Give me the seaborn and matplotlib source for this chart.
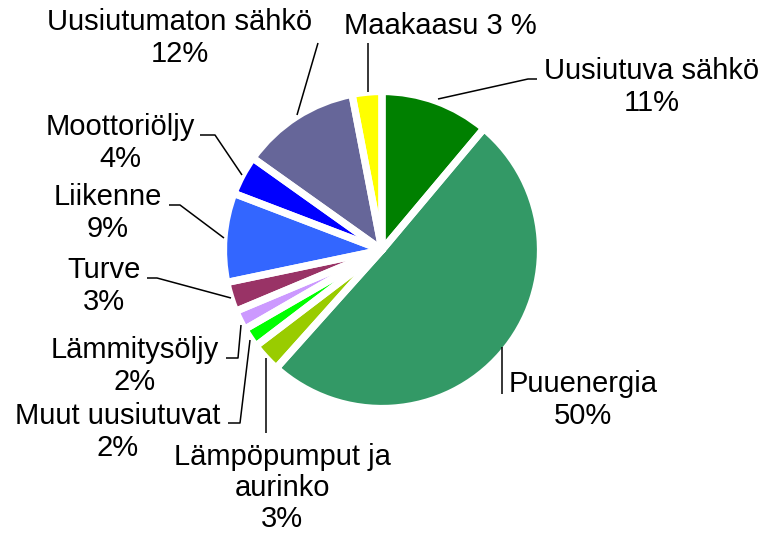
import matplotlib
matplotlib.use("Agg")
import matplotlib.pyplot as plt
import seaborn as sns

# Energy use shares (%), clockwise from 12 o'clock
categories = ["Uusiutuva sähkö", "Puuenergia", "Lämpöpumput ja aurinko",
              "Muut uusiutuvat", "Lämmitysöljy", "Turve", "Liikenne",
              "Moottoriöljy", "Uusiutumaton sähkö", "Maakaasu"]
shares = [11, 50, 3, 2, 2, 3, 9, 4, 12, 3]
label_texts = ["Uusiutuva sähkö\n11%", "Puuenergia\n50%",
               "Lämpöpumput ja\naurinko\n3%", "Muut uusiutuvat\n2%",
               "Lämmitysöljy\n2%", "Turve\n3%", "Liikenne\n9%",
               "Moottoriöljy\n4%", "Uusiutumaton sähkö\n12%", "Maakaasu 3 %"]
colors = ["#008000", "#339966", "#99CC00", "#00FF00", "#CC99FF",
          "#993366", "#3366FF", "#0000FF", "#666699", "#FFFF00"]

W, H = 767, 535


def px(x, y):
    # pixel coords (origin top-left) -> data coords
    return x, H - y


# label anchor (pixel) and leader polyline (pixel), same order as categories
label_pos = [(652, 87), (583, 400), (282, 488), (118, 432), (135, 366),
             (104, 286), (108, 213), (120, 143), (180, 38), (440, 26)]
leaders = [
    [(537, 79), (528, 79), (438, 99)],
    [(502, 347), (502, 394)],
    [(266, 358), (266, 433)],
    [(228, 423), (240, 423), (250, 340)],
    [(226, 358), (238, 358), (241, 325)],
    [(147, 278), (157, 278), (231, 298)],
    [(169, 205), (180, 205), (224, 238)],
    [(200, 135), (215, 135), (242, 175)],
    [(318, 43), (297, 115)],
    [(368, 43), (368, 92)],
]

sns.set_theme(style="white")
plt.rcParams['font.family'] = ['Liberation Sans', 'DejaVu Sans']

fig = plt.figure(figsize=(W / 100, H / 100), dpi=100)
ax = fig.add_axes([0, 0, 1, 1])

center = px(382, 250)
# filled wedges first, then white separators on top of all of them
ax.pie(shares, colors=colors, startangle=90, counterclock=False,
       center=center, radius=158.5, wedgeprops=dict(linewidth=0))
ax.pie(shares, startangle=90, counterclock=False,
       center=center, radius=158.5,
       wedgeprops=dict(fill=False, edgecolor="white", linewidth=5.2,
                       joinstyle="round"))

for pts in leaders:
    xs = [px(x, y)[0] for x, y in pts]
    ys = [px(x, y)[1] for x, y in pts]
    ax.plot(xs, ys, color="black", lw=1.1, solid_capstyle="butt")

for txt, (x, y) in zip(label_texts, label_pos):
    ax.text(*px(x, y), txt, ha="center", va="center", fontsize=21,
            linespacing=1.15, color="black")

ax.set_xlim(0, W)
ax.set_ylim(0, H)
ax.set_aspect("equal")
ax.axis("off")

plt.savefig("out.png", dpi=100)
